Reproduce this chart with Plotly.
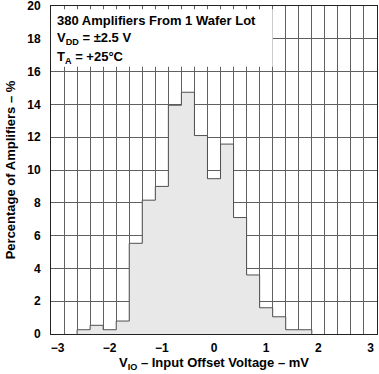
import plotly.graph_objects as go

# Bin centres (mV) and percentage of amplifiers in each 0.25 mV bin
bin_centers = [-2.5, -2.25, -2.0, -1.75, -1.5, -1.25, -1.0, -0.75, -0.5, -0.25,
               0.0, 0.25, 0.5, 0.75, 1.0, 1.25, 1.5, 1.75]
percentages = [0.26, 0.53, 0.26, 0.79, 5.53, 8.16, 9.0, 13.95, 14.74, 12.1,
               9.47, 11.58, 7.1, 3.6, 1.6, 1.05, 0.26, 0.26]
bin_width = 0.25

x_ticks = [-3, -2, -1, 0, 1, 2, 3]
x_tick_labels = ["\u22123", "\u22122", "\u22121", "0", "1", "2", "3"]
y_ticks = [0, 2, 4, 6, 8, 10, 12, 14, 16, 18, 20]

half = bin_width / 2
xs = [bin_centers[0] - half]
ys = [0]
for c, p in zip(bin_centers, percentages):
    xs.append(c - half)
    ys.append(p)
xs.append(bin_centers[-1] + half)
ys.append(0)

FONT = "Liberation Sans, Arial, Helvetica, sans-serif"
GRID = "#606060"

fig = go.Figure()
fig.add_trace(go.Scatter(
    x=xs, y=ys, mode="lines", line=dict(shape="hv", color="#505050", width=1),
    fill="tozeroy", fillcolor="#e8e8e8", hoverinfo="skip", showlegend=False))

fig.add_shape(type="rect", xref="x", yref="y", x0=-3.125, x1=1.125, y0=16.3, y1=19.8,
              fillcolor="white", line=dict(width=0), layer="between")

for i, t in enumerate(["<b>380 Amplifiers From 1 Wafer Lot</b>",
                       "<b>V<sub>DD</sub> = \u00b12.5 V</b>",
                       "<b>T<sub>A</sub> = +25\u00b0C</b>"]):
    fig.add_annotation(text=t, xref="paper", yref="paper", x=0.013, y=0.957 - i * 0.057,
                       xanchor="left", yanchor="middle", showarrow=False,
                       font=dict(family=FONT, size=13, color="black"))

fig.update_layout(
    width=379, height=374, margin=dict(l=51, r=2, t=6, b=40, autoexpand=False),
    paper_bgcolor="white", plot_bgcolor="white",
    font=dict(family=FONT, size=12, color="black"),
    xaxis=dict(range=[-3.125, 3.125], tickmode="array", tickvals=x_ticks, ticktext=x_tick_labels,
               tickfont=dict(family=FONT, size=12, weight="bold"),
               showgrid=False, zeroline=False, showline=True, mirror=True, linecolor="#222", linewidth=1,
               ticks="", ticklabelstandoff=3, automargin=False, ticklabeloverflow="allow",
               minor=dict(tick0=0.125, dtick=0.25, showgrid=True, gridcolor=GRID, gridwidth=1, ticks=""),
               title=dict(text="<b>V<sub>IO</sub> \u2013 Input Offset Voltage \u2013 mV</b>",
                          font=dict(family=FONT, size=13), standoff=2)),
    yaxis=dict(range=[0, 20], tickmode="linear", tick0=0, dtick=2,
               tickfont=dict(family=FONT, size=12, weight="bold"),
               showgrid=True, gridcolor=GRID, gridwidth=1, zeroline=False, automargin=False,
               showline=True, mirror=True, linecolor="#222", linewidth=1, ticks="", ticklabelstandoff=7,
               ticklabeloverflow="allow",
               title=dict(text="<b>Percentage of Amplifiers \u2013 %</b>",
                          font=dict(family=FONT, size=13), standoff=8)),
)

fig.write_html("out.html", post_script="document.body.style.margin='0';",
               config={"displayModeBar": False})
